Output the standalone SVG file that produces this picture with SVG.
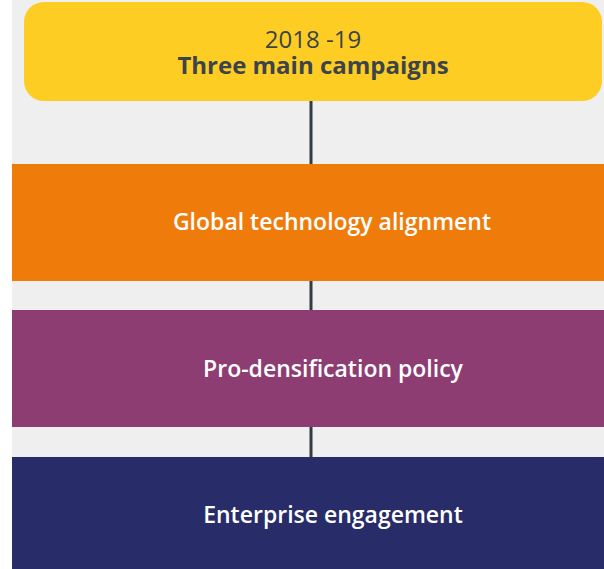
<svg xmlns="http://www.w3.org/2000/svg" width="604" height="569" viewBox="0 0 604 569">
<style>
.lbl{font-family:"Open Sans","Noto Sans",sans-serif;text-anchor:middle}
.w{fill:#ffffff;font-size:23px;font-weight:600}
.d{fill:#3d434a;font-size:24px}
.conn{stroke:#333b43;stroke-width:3}
</style>
<rect x="0" y="0" width="604" height="569" fill="#ffffff"/>
<rect x="12" y="0" width="592" height="569" fill="#efefef"/>
<g id="connectors">
<line class="conn" x1="311" y1="100" x2="311" y2="164"/>
<line class="conn" x1="311" y1="281" x2="311" y2="310"/>
<line class="conn" x1="311" y1="427" x2="311" y2="457"/>
</g>
<g id="n0">
<rect x="24" y="2" width="578" height="99" rx="20" fill="#fdcd24"/>
<text class="lbl d" x="313" y="48">2018 -19</text>
<text class="lbl d" x="313" y="74" font-weight="bold">Three main campaigns</text>
</g>
<g id="n1">
<rect x="12" y="164" width="592" height="117" fill="#ef7b0a"/>
<text class="lbl w" x="332" y="230">Global technology alignment</text>
</g>
<g id="n2">
<rect x="12" y="310" width="592" height="117" fill="#8e3d73"/>
<text class="lbl w" x="333" y="377">Pro-densification policy</text>
</g>
<g id="n3">
<rect x="12" y="457" width="592" height="112" fill="#282c69"/>
<text class="lbl w" x="333" y="523">Enterprise engagement</text>
</g>
</svg>
